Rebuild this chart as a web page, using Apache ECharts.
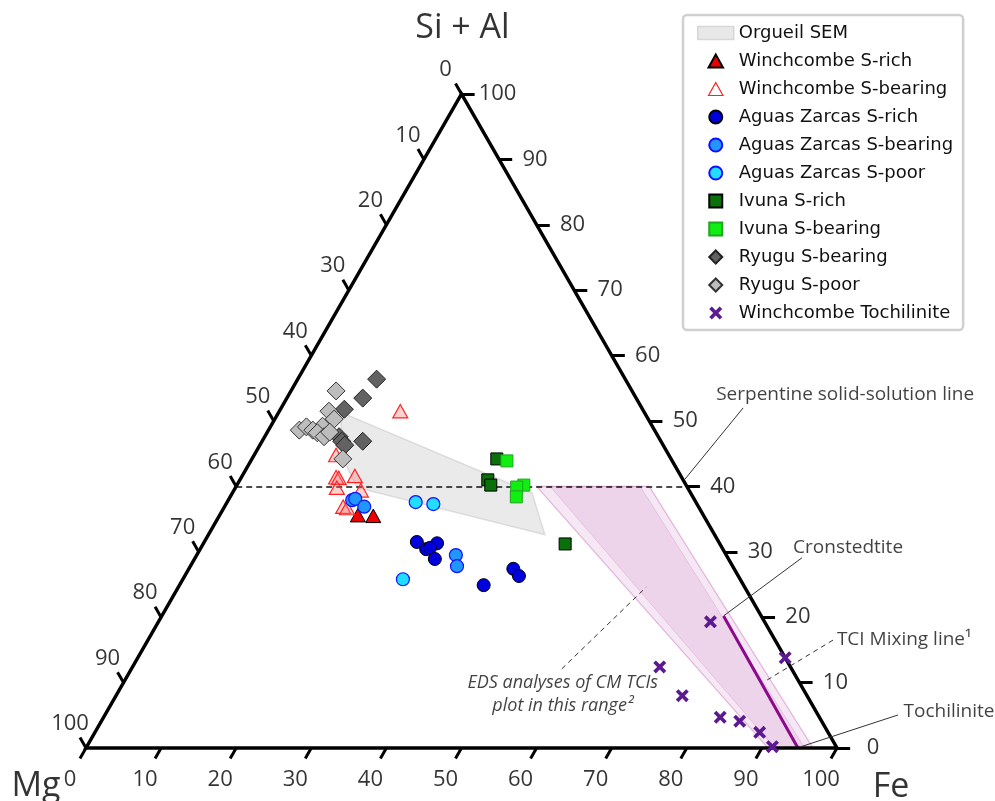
<!DOCTYPE html>
<html>
<head>
<meta charset="utf-8">
<script src="https://cdn.jsdelivr.net/npm/echarts@6/dist/echarts.min.js"></script>
<style>
html,body{margin:0;padding:0;background:#fff;}
#chart{width:995px;height:801px;}
</style>
</head>
<body>
<div id="chart"></div>
<script>
// ternary values: [Fe, Si+Al] in %, Mg = 100 - Fe - (Si+Al)
var tickVals = [0, 10, 20, 30, 40, 50, 60, 70, 80, 90, 100];

var orgueilSEM = [[8.1, 51.4], [39.9, 39.0], [44.8, 32.6], [16.2, 39.8], [12.6, 43.7]];
var edsOuter = [[40, 40], [55, 40], [96.8, 0], [90.8, 0]];
var edsInner = [[41.8, 40], [53.8, 40], [95.7, 0], [91.7, 0]];

var winchcombeSRich = [[18.4, 35.6], [20.5, 35.5]];
var winchcombeSBearing = [[16.1, 51.5], [10.9, 44.8], [12.6, 41.4], [13.0, 41.3], [15.0, 41.6], [13.5, 39.8], [16.9, 39.4], [15.8, 36.9], [16.4, 36.7]];
var aguasSRich = [[28.3, 31.5], [30.1, 30.4], [31.1, 31.3], [30.5, 30.6], [32.0, 28.9], [40.5, 24.9], [43.2, 27.4], [44.5, 26.3]];
var aguasSBearing = [[16.5, 37.9], [16.8, 38.1], [18.6, 36.9], [34.5, 29.5], [35.5, 27.8]];
var aguasSPoor = [[25.1, 37.6], [27.6, 37.3], [29.3, 25.8]];
var ivunaSRich = [[32.6, 44.2], [33.0, 41.0], [33.8, 40.2], [48.2, 31.2]];
var ivunaSBearing = [[34.1, 43.9], [38.2, 40.2], [37.4, 39.9], [38.1, 38.4]];
var ryuguSBearing = [[10.5, 56.4], [10.1, 53.5], [8.5, 51.8], [13.4, 46.9], [9.9, 47.6], [10.6, 46.9], [11.3, 46.3]];
var ryuguSPoor = [[6.0, 54.6], [6.6, 51.5], [7.9, 50.3], [6.9, 49.2], [4.1, 48.6], [4.8, 49.1], [5.9, 48.6], [6.7, 48.2], [7.9, 47.6], [8.3, 48.3], [12.1, 44.2]];
var tochilinite = [[73.5, 19.3], [70.2, 12.4], [75.4, 8.0], [82.1, 4.7], [85.0, 4.1], [88.5, 2.4], [91.3, 0.2], [86.2, 13.8]];

var cronstedtiteLine = [[74.8, 20.2], [94.8, 0]];
var serpentineLine = [[0, 40], [60, 40]];

// leaders for the notes
var leaderSerp = [[59.2, 41.1], [61.5, 52.0]];
var leaderCron = [[74.8, 20.2], [80.8, 29.1]];
var leaderTci = [[85.5, 10.4], [91.5, 16.8]];
var leaderToch = [[95.0, 0.15], [105.6, 5.05]];
var leaderEds = [[57.3, 12.1], [62.3, 24.6]];

// ternary -> plot coords
function T(p) { return [p[0] + p[1] / 2, p[1]]; }

var symTri = 'path://M5,0L10,9L0,9Z';
var symDia = 'path://M5,0L10,5L5,10L0,5Z';
var symSq = 'path://M0,0L10,0L10,10L0,10Z';
var symX = 'path://M0,2L2,0L5,3L8,0L10,2L7,5L10,8L8,10L5,7L2,10L0,8L3,5Z';

function polySeries(name, pts, fill, stroke, lw, z) {
    return {
        name: name, type: 'custom', coordinateSystem: 'cartesian2d', z: z, silent: true,
        data: [[0, 0]],
        renderItem: function (params, api) {
            return {
                type: 'polygon',
                shape: { points: pts.map(function (p) { return api.coord(T(p)); }) },
                style: { fill: fill, stroke: stroke, lineWidth: lw, lineJoin: 'miter' }
            };
        }
    };
}

function scatter(name, arr, symbol, size, fill, edge, bw) {
    return {
        name: name, type: 'scatter', z: 6, symbol: symbol, symbolSize: size, symbolKeepAspect: true,
        data: arr.map(T),
        itemStyle: { color: fill, borderColor: edge, borderWidth: bw, opacity: 1 },
        emphasis: { disabled: true }
    };
}

function segs(list) {
    return list.map(function (s) { return { coords: [T(s[0]), T(s[1])] }; });
}

function linesSeries(data, color, width, type, z) {
    return {
        type: 'lines', coordinateSystem: 'cartesian2d', z: z, silent: true, clip: false,
        data: data,
        lineStyle: { color: color, width: width, type: type, opacity: 1, cap: 'butt' }
    };
}

function textSeries(items, font) {
    return {
        type: 'scatter', z: 7, silent: true, clip: false, symbolSize: 1,
        itemStyle: { color: 'transparent' },
        data: items.map(function (it) {
            return {
                value: T(it.p), name: it.t,
                label: {
                    show: true, position: 'inside', formatter: '{b}', offset: it.o,
                    align: it.a || 'center', verticalAlign: 'middle',
                    fontFamily: font.family, fontSize: font.size, fontStyle: font.style || 'normal',
                    lineHeight: font.lh || font.size * 1.2, color: font.color || '#000'
                }
            };
        })
    };
}

// axis ticks and labels
var tickSegs = [];
var tickLabels = [];
tickVals.forEach(function (v) {
    // bottom (Fe)
    var b = [v, 0];
    tickSegs.push({ coords: [T(b), [T(b)[0] - 0.8, -1.6]] });
    tickLabels.push({ p: b, t: String(v), o: [-16, 32] });
    // left (Mg, 0 at top)
    var l = [0, 100 - v];
    tickSegs.push({ coords: [T(l), [T(l)[0] - 0.8, T(l)[1] + 1.6]] });
    tickLabels.push({ p: l, t: String(v), o: [-16, -24] });
    // right (Si+Al)
    var r = [100 - v, v];
    tickSegs.push({ coords: [T(r), [T(r)[0] + 1.75, T(r)[1]]] });
    tickLabels.push({ p: r, t: String(v), o: [36, 0] });
});

var chart = echarts.init(document.getElementById('chart'));
var option = {
    animation: false,
    backgroundColor: '#fff',
    grid: { left: 86, top: 94, width: 751, height: 654 },
    xAxis: { type: 'value', min: 0, max: 100, show: false },
    yAxis: { type: 'value', min: 0, max: 100, show: false },
    legend: {
        left: 683, top: 15, orient: 'vertical',
        padding: [8, 10, 7, 14],
        itemWidth: 36, itemHeight: 13, itemGap: 8,
        symbolKeepAspect: true,
        borderColor: '#d0d0d0', borderWidth: 2.5, borderRadius: 4,
        backgroundColor: '#fff',
        selectedMode: false,
        textStyle: { fontFamily: 'DejaVu Sans', fontSize: 18, color: '#111', lineHeight: 20 },
        data: [
            { name: 'Orgueil SEM', icon: 'rect', itemStyle: { color: '#e8e8e8', borderColor: '#d6d6d6', borderWidth: 1.5 } },
            'Winchcombe S-rich',
            { name: 'Winchcombe S-bearing', itemStyle: { color: '#fff', borderColor: '#ff2222', borderWidth: 1.2 } },
            'Aguas Zarcas S-rich', 'Aguas Zarcas S-bearing', 'Aguas Zarcas S-poor',
            'Ivuna S-rich', 'Ivuna S-bearing',
            'Ryugu S-bearing', 'Ryugu S-poor',
            'Winchcombe Tochilinite'
        ]
    },
    series: [
        polySeries('EDS outer', edsOuter, 'rgba(200,110,190,0.17)', 'rgba(210,140,200,0.6)', 1.2, 1),
        polySeries('EDS inner', edsInner, 'rgba(200,110,190,0.16)', 'rgba(210,140,200,0.35)', 1, 1),
        polySeries('Orgueil SEM', orgueilSEM, 'rgba(200,200,200,0.38)', 'rgba(190,190,190,0.45)', 1.5, 2),
        linesSeries(segs([serpentineLine]), '#111', 1.6, [6, 4], 3),
        linesSeries(segs([cronstedtiteLine]), '#8b0a8b', 3, 'solid', 3),
        polySeries('frame', [[0, 0], [100, 0], [0, 100]], 'none', '#000', 3.5, 4),
        linesSeries(tickSegs, '#000', 3, 'solid', 4),
        linesSeries(segs([leaderSerp, leaderCron, leaderToch]), '#333', 1, 'solid', 4),
        linesSeries(segs([leaderTci, leaderEds]), '#333', 1, [5, 4], 4),
        scatter('Winchcombe S-rich', winchcombeSRich, symTri, 15, '#ee0000', '#000', 1),
        scatter('Winchcombe S-bearing', winchcombeSBearing, symTri, 15, 'rgba(255,120,120,0.35)', '#ff2222', 1.2),
        scatter('Aguas Zarcas S-rich', aguasSRich, 'circle', 13, '#0000dd', '#000', 1),
        scatter('Aguas Zarcas S-bearing', aguasSBearing, 'circle', 13, '#2196ff', '#1010ff', 1.2),
        scatter('Aguas Zarcas S-poor', aguasSPoor, 'circle', 13, '#22ddff', '#1010ff', 1.2),
        scatter('Ivuna S-rich', ivunaSRich, symSq, 12, '#0a700a', '#000', 1),
        scatter('Ivuna S-bearing', ivunaSBearing, symSq, 12, '#11ee11', '#1fa51f', 1),
        scatter('Ryugu S-bearing', ryuguSBearing, symDia, 18, '#626262', '#222', 1),
        scatter('Ryugu S-poor', ryuguSPoor, symDia, 18, '#bdbdbd', '#333', 1),
        scatter('Winchcombe Tochilinite', tochilinite, symX, 13, '#5b1a8f', '#5b1a8f', 0),
        textSeries(tickLabels, { family: 'Open Sans', size: 22 }),
        textSeries([
            { p: [0, 100], t: 'Si + Al', o: [1, -66] },
            { p: [0, 0], t: 'Mg', o: [-50, 38] },
            { p: [100, 0], t: 'Fe', o: [54, 39] }
        ], { family: 'Open Sans', size: 34 }),
        textSeries([
            { p: leaderSerp[1], t: 'Serpentine solid-solution line', o: [102, -13] },
            { p: leaderCron[1], t: 'Cronstedtite', o: [46, -10] },
            { p: leaderTci[1], t: 'TCI Mixing line¹', o: [68, 1] },
            { p: leaderToch[1], t: 'Tochilinite', o: [51, -3] }
        ], { family: 'Open Sans', size: 19, color: '#111' }),
        textSeries([
            { p: leaderEds[0], t: 'EDS analyses of CM TCIs\nplot in this range²', o: [1, 26] }
        ], { family: 'Open Sans', size: 18, style: 'italic', lh: 23, color: '#111' })
    ]
};
chart.setOption(option);
</script>
</body>
</html>
